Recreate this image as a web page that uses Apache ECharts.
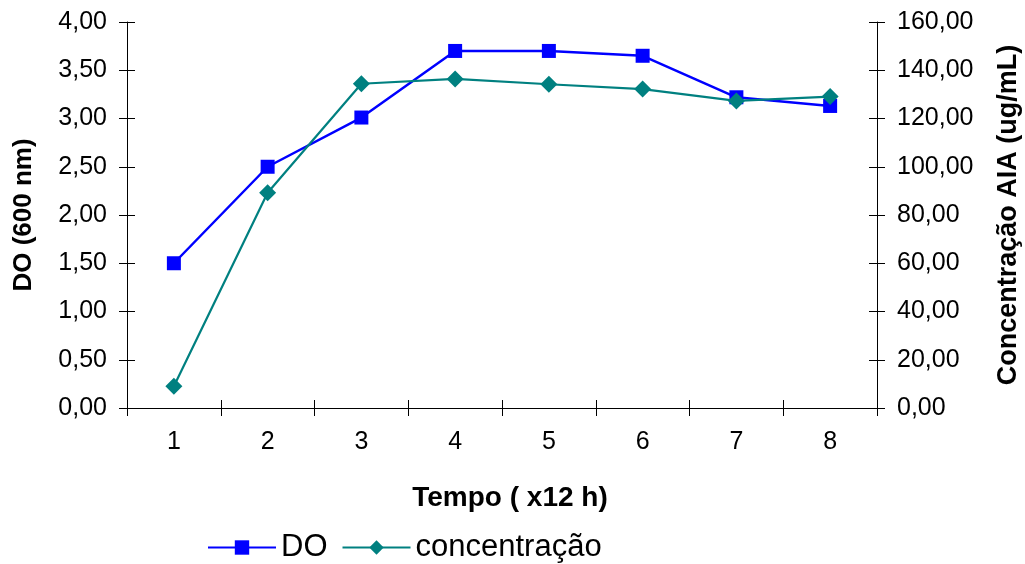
<!DOCTYPE html>
<html>
<head>
<meta charset="utf-8">
<script src="https://cdn.jsdelivr.net/npm/echarts@6/dist/echarts.min.js"></script>
<style>
  html, body { margin: 0; padding: 0; background: #fff; }
  #chart { width: 1025px; height: 564px; }
</style>
</head>
<body>
<div id="chart"></div>
<script>
// Tempo (x12 h) categories
const tempo = ['1', '2', '3', '4', '5', '6', '7', '8'];
// Optical density at 600 nm
const doValues = [1.50, 2.50, 3.01, 3.70, 3.70, 3.65, 3.22, 3.13];
// AIA concentration (ug/mL)
const concentracao = [9.0, 89.2, 134.4, 136.4, 134.2, 132.2, 127.3, 129.1];

const FONT = '"Liberation Sans", Arial, sans-serif';
const fmt = v => v.toFixed(2).replace('.', ',');

const axisLine = { show: true, lineStyle: { color: '#000', width: 1 } };
const tickOut = { show: true, inside: false, length: 8, lineStyle: { color: '#000', width: 1 } };
const tickIn = { show: true, inside: true, length: 8, lineStyle: { color: '#000', width: 1 } };
const labelStyle = { color: '#000', fontFamily: FONT, fontSize: 25 };
const nameStyle = { color: '#000', fontFamily: FONT, fontSize: 26, fontWeight: 'bold' };

const chart = echarts.init(document.getElementById('chart'), null, { renderer: 'canvas' });

chart.setOption({
  animation: false,
  backgroundColor: '#fff',
  grid: { left: 127, right: 148, top: 22, bottom: 156, containLabel: false, outerBoundsMode: 'none' },
  legend: {
    left: 202,
    top: 527,
    itemWidth: 68,
    itemHeight: 18,
    itemGap: 14,
    textStyle: { color: '#000', fontFamily: FONT, fontSize: 31 },
    data: ['DO', 'concentração']
  },
  xAxis: [
    {
      type: 'category',
      data: tempo,
      boundaryGap: true,
      axisLine: axisLine,
      axisTick: tickOut,
      axisLabel: Object.assign({ margin: 22 }, labelStyle),
      splitLine: { show: false },
      name: 'Tempo ( x12 h)',
      nameLocation: 'middle',
      nameGap: 76,
      nameTextStyle: Object.assign({}, nameStyle, { fontSize: 28, padding: [0, 0, 0, 16] })
    },
    {
      type: 'category',
      data: tempo,
      boundaryGap: true,
      position: 'bottom',
      axisLine: { show: false },
      axisTick: tickIn,
      axisLabel: { show: false },
      splitLine: { show: false }
    }
  ],
  yAxis: [
    {
      type: 'value',
      position: 'left',
      min: 0, max: 4, interval: 0.5,
      axisLine: axisLine,
      axisTick: tickOut,
      axisLabel: Object.assign({ margin: 20, formatter: fmt }, labelStyle),
      splitLine: { show: false },
      name: 'DO (600 nm)',
      nameLocation: 'middle',
      nameGap: 90,
      nameRotate: 90,
      nameTextStyle: nameStyle
    },
    {
      type: 'value',
      position: 'right',
      min: 0, max: 160, interval: 20,
      axisLine: axisLine,
      axisTick: tickOut,
      axisLabel: Object.assign({ margin: 20, formatter: fmt }, labelStyle),
      splitLine: { show: false },
      name: 'Concentração AIA (ug/mL)',
      nameLocation: 'middle',
      nameGap: 118,
      nameRotate: 90,
      nameTextStyle: Object.assign({}, nameStyle, { fontSize: 27 })
    },
    {
      type: 'value',
      position: 'left',
      min: 0, max: 4, interval: 0.5,
      axisLine: { show: false },
      axisTick: tickIn,
      axisLabel: { show: false },
      splitLine: { show: false }
    },
    {
      type: 'value',
      position: 'right',
      min: 0, max: 160, interval: 20,
      axisLine: { show: false },
      axisTick: tickIn,
      axisLabel: { show: false },
      splitLine: { show: false }
    }
  ],
  series: [
    {
      name: 'DO',
      type: 'line',
      xAxisIndex: 0,
      yAxisIndex: 0,
      data: doValues,
      symbol: 'rect',
      symbolSize: 14,
      lineStyle: { color: '#0000ff', width: 2.5 },
      itemStyle: { color: '#0000ff' },
      z: 3
    },
    {
      name: 'concentração',
      type: 'line',
      xAxisIndex: 0,
      yAxisIndex: 1,
      data: concentracao,
      symbol: 'diamond',
      symbolSize: 17,
      lineStyle: { color: '#008080', width: 2.2 },
      itemStyle: { color: '#008080' },
      z: 4
    }
  ]
});
</script>
</body>
</html>
